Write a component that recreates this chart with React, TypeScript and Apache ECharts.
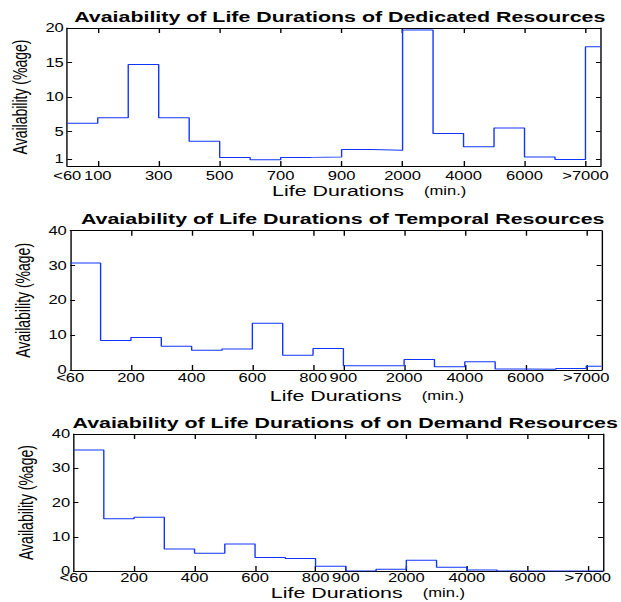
import React, { useEffect, useRef } from "react";
import * as echarts from "echarts";

// ---- data ----
const dedicatedAvailability = [6.2, 7.0, 14.7, 7.0, 3.6, 1.25, 0.9, 1.25, 1.3, 2.4, 2.3, 19.7, 4.7, 2.8, 5.5, 1.3, 0.95, 17.3];
const temporalAvailability = [30.7, 8.5, 9.3, 6.8, 5.65, 6.0, 13.4, 4.2, 6.2, 1.25, 1.25, 3.05, 0.95, 2.4, 0.3, 0.2, 0.45, 1.05];
const onDemandAvailability = [35.3, 15.3, 15.7, 6.45, 5.2, 7.9, 4.0, 3.65, 1.4, 0, 0.55, 3.2, 1.15, 0.3, 0, 0, 0, 0];

const dedicatedTickPositions = [0, 1, 3, 5, 7, 9, 11, 13, 15, 17];
const dedicatedTickLabels = ["<60", "100", "300", "500", "700", "900", "2000", "4000", "6000", ">7000"];
const otherTickPositions = [0, 2, 4, 6, 8, 9, 11, 13, 15, 17];
const otherTickLabels = ["<60", "200", "400", "600", "800", "900", "2000", "4000", "6000", ">7000"];

const dedicatedYTicks = [1, 5, 10, 15, 20];
const percentYTicks = [0, 10, 20, 30, 40];

const titles = [
  "Avaiability of Life Durations of Dedicated Resources",
  "Avaiability of Life Durations of Temporal Resources",
  "Avaiability of Life Durations of on Demand Resources",
];
const xAxisName = "Life Durations";
const xAxisUnit = "(min.)";
const yAxisName = "Availability (%age)";

// ---- layout ----
const STRETCH = 1.38;
const BASE_W = 450;
const H = 602;
const FONT = "'Liberation Sans', Arial, Helvetica, sans-serif";
const LINE_COLOR = "#1234ff";

const panels = [
  { values: dedicatedAvailability, pos: dedicatedTickPositions, labels: dedicatedTickLabels, yTicks: dedicatedYTicks, yMax: 20,
    grid: { left: 47.1, top: 28, width: 388.2, height: 138 }, titleTop: 4, labelMargin: 4, nameGap: 17, namePad: 51 },
  { values: temporalAvailability, pos: otherTickPositions, labels: otherTickLabels, yTicks: percentYTicks, yMax: 40,
    grid: { left: 50.9, top: 230.7, width: 384.9, height: 139.3 }, titleTop: 205.5, labelMargin: 2, nameGap: 18, namePad: 45 },
  { values: onDemandAvailability, pos: otherTickPositions, labels: otherTickLabels, yTicks: percentYTicks, yMax: 40,
    grid: { left: 53.3, top: 434, width: 383.6, height: 138.3 }, titleTop: 409.5, labelMargin: 1, nameGap: 11, namePad: 43 },
];

function buildOption() {
  const grid: any[] = [];
  const xAxis: any[] = [];
  const yAxis: any[] = [];
  const series: any[] = [];
  const title: any[] = [];
  panels.forEach((p, i) => {
    grid.push({ ...p.grid, containLabel: false });
    const xMax = p.values.length - 0.5;
    const innerTicks = p.pos.filter((v) => v > 0);
    const common = {
      type: "value",
      gridIndex: i,
      min: 0,
      max: xMax,
      splitLine: { show: false },
      axisLine: { show: true, onZero: false, lineStyle: { color: "#000", width: 1 } },
      axisTick: { show: true, inside: true, length: 5, customValues: innerTicks, lineStyle: { color: "#000" } },
    };
    xAxis.push({
      ...common,
      position: "bottom",
      axisLabel: {
        show: true,
        customValues: p.pos,
        showMinLabel: true,
        showMaxLabel: true,
        margin: p.labelMargin,
        fontSize: 12,
        fontFamily: FONT,
        color: "#000",
        formatter: (v: number) => {
          const k = p.pos.indexOf(Math.round(v));
          return k >= 0 ? p.labels[k] : "";
        },
      },
      name: `{a|${xAxisName}}{m|${xAxisUnit}}`,
      nameLocation: "middle",
      nameGap: p.nameGap,
      nameTextStyle: {
        padding: [0, 0, 0, p.namePad],
        rich: {
          a: { fontSize: 15.5, fontFamily: FONT, color: "#000" },
          m: { fontSize: 12, fontFamily: FONT, color: "#000", padding: [0, 0, 0, 14.5] },
        },
      },
    });
    xAxis.push({ ...common, position: "top", axisLabel: { show: false } });

    const yCommon = {
      type: "value",
      gridIndex: i,
      min: 0,
      max: p.yMax,
      splitLine: { show: false },
      axisLine: { show: true, onZero: false, lineStyle: { color: "#000", width: 1 } },
      axisTick: { show: true, inside: true, length: 3.5, customValues: p.yTicks, lineStyle: { color: "#000" } },
    };
    yAxis.push({
      ...yCommon,
      position: "left",
      axisLabel: {
        show: true,
        customValues: p.yTicks,
        showMinLabel: true,
        showMaxLabel: true,
        margin: 2.5,
        fontSize: 12,
        fontFamily: FONT,
        color: "#000",
      },
      name: yAxisName,
      nameLocation: "middle",
      nameGap: 23,
      nameTextStyle: { fontSize: 14, fontFamily: FONT, color: "#000" },
    });
    yAxis.push({ ...yCommon, position: "right", axisLabel: { show: false } });

    const data = p.values.map((v, k) => [k, v]);
    data.push([xMax, p.values[p.values.length - 1]]);
    series.push({
      type: "line",
      xAxisIndex: 2 * i,
      yAxisIndex: 2 * i,
      step: "end",
      data,
      symbol: "none",
      lineStyle: { color: LINE_COLOR, width: 1 },
      clip: true,
    });

    title.push({
      text: titles[i],
      left: p.grid.left + p.grid.width / 2,
      top: p.titleTop,
      textAlign: "center",
      textStyle: { fontSize: 15.5, fontWeight: "bold", fontFamily: FONT, color: "#000" },
    });
  });
  return { animation: false, backgroundColor: "#fff", title, grid, xAxis, yAxis, series };
}

export default function App() {
  const ref = useRef<HTMLDivElement>(null);
  useEffect(() => {
    if (!ref.current) return;
    const chart = echarts.init(ref.current, undefined, { renderer: "svg", width: BASE_W, height: H });
    chart.setOption(buildOption() as any);
    return () => chart.dispose();
  }, []);
  return (
    <div
      ref={ref}
      style={{
        position: "absolute",
        left: 0,
        top: 0,
        width: BASE_W,
        height: H,
        transform: `scaleX(${STRETCH})`,
        transformOrigin: "0 0",
        background: "#fff",
      }}
    />
  );
}
